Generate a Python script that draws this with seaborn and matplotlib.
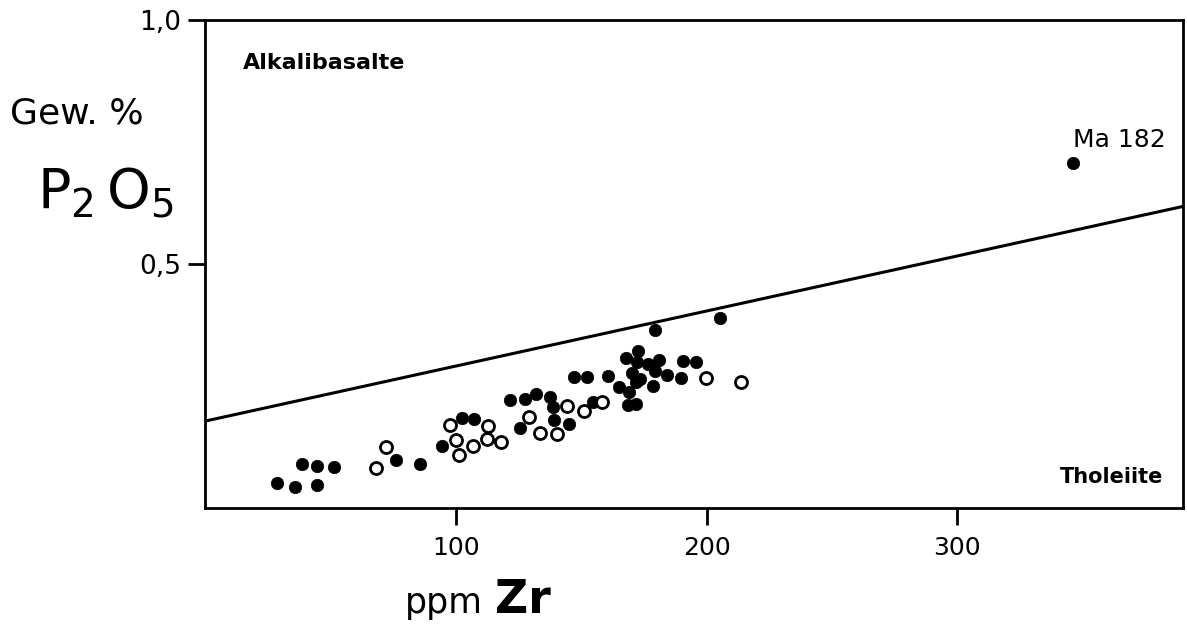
import matplotlib
matplotlib.use("Agg")
import matplotlib.pyplot as plt
import seaborn as sns
import pandas as pd

# ---- data ----
filled_zr = [28.8, 36.0, 44.8, 38.8, 44.8, 51.6, 76.0, 85.6, 94.4, 102.4, 107.2,
             121.6, 127.6, 132.0, 137.6, 138.8, 139.2, 125.6, 145.2, 147.2, 152.4,
             160.8, 154.8, 165.2, 169.2, 168.8, 172.0, 170.4, 173.6, 172.0, 178.8,
             179.6, 184.4, 190.0, 168.0, 172.4, 176.8, 181.2, 190.8, 195.6, 172.8,
             179.6, 205.2, 346.0]
filled_p2o5 = [0.051, 0.043, 0.047, 0.090, 0.086, 0.084, 0.098, 0.090, 0.127, 0.184, 0.182,
               0.222, 0.224, 0.233, 0.227, 0.206, 0.180, 0.163, 0.173, 0.269, 0.269,
               0.271, 0.218, 0.247, 0.237, 0.212, 0.214, 0.276, 0.265, 0.259, 0.251,
               0.280, 0.273, 0.267, 0.308, 0.300, 0.296, 0.304, 0.302, 0.300, 0.322,
               0.365, 0.390, 0.706]
open_zr = [68.0, 72.0, 97.6, 100.0, 101.2, 106.8, 112.8, 112.4, 118.0, 129.2,
           133.6, 140.4, 144.4, 151.2, 158.4, 199.6, 213.6]
open_p2o5 = [0.082, 0.124, 0.171, 0.139, 0.108, 0.127, 0.169, 0.141, 0.135, 0.186,
             0.153, 0.151, 0.210, 0.198, 0.218, 0.267, 0.259]
boundary_zr = [0, 390]
boundary_p2o5 = [0.178, 0.618]
x_ticks = [100, 200, 300]
x_ticklabels = ["100", "200", "300"]
y_ticks = [0.5, 1.0]
y_ticklabels = ["0,5", "1,0"]
label_ma = "Ma 182"

df_filled = pd.DataFrame({"Zr": filled_zr, "P2O5": filled_p2o5})
df_open = pd.DataFrame({"Zr": open_zr, "P2O5": open_p2o5})
df_line = pd.DataFrame({"Zr": boundary_zr, "P2O5": boundary_p2o5})

sns.set_theme(style="white")
plt.rcParams["font.family"] = ["DejaVu Sans"]

fig = plt.figure(figsize=(11.87, 6.35), dpi=100)
ax = fig.add_axes([205 / 1187, 1 - 508 / 635, 978 / 1187, 488 / 635])

sns.lineplot(data=df_line, x="Zr", y="P2O5", ax=ax, color="black", linewidth=2.2)
sns.scatterplot(data=df_filled, x="Zr", y="P2O5", ax=ax, color="black",
                s=80, edgecolor="black", linewidth=0.5, zorder=3)
sns.scatterplot(data=df_open, x="Zr", y="P2O5", ax=ax, facecolor="white",
                s=75, edgecolor="black", linewidth=2.0, zorder=4)

ax.set_xlim(0, 390)
ax.set_ylim(0, 1.0)
ax.set_xticks(x_ticks)
ax.set_xticklabels(x_ticklabels)
ax.set_yticks(y_ticks)
ax.set_yticklabels(y_ticklabels)
ax.set_xlabel("")
ax.set_ylabel("")

for sp in ax.spines.values():
    sp.set_visible(True)
    sp.set_color("black")
    sp.set_linewidth(2.0)

ax.tick_params(axis="both", which="major", direction="out", length=12, width=2.0,
               color="black", labelcolor="black", bottom=True, left=True,
               top=False, right=False)
ax.tick_params(axis="x", pad=8, labelsize=18)
ax.tick_params(axis="y", pad=5, labelsize=19)

# annotation for Ma 182
ax.annotate(label_ma, xy=(filled_zr[-1], filled_p2o5[-1]), xytext=(0, 8),
            textcoords="offset points", ha="left", va="bottom", fontsize=18,
            color="black")

# region labels
ax.text(0.039, 0.90, "Alkalibasalte", transform=ax.transAxes, ha="left",
        va="baseline", fontsize=16, fontweight="bold", color="black")
ax.text(0.98, 0.051, "Tholeiite", transform=ax.transAxes, ha="right",
        va="baseline", fontsize=15, fontweight="bold", color="black")

# axis titles
fig.text(10 / 1187, 1 - 123 / 635, "Gew. %", ha="left", va="baseline",
         fontsize=26, color="black")
fig.text(37 / 1187, 1 - 208 / 635, r"$\mathsf{P_2\,O_5}$", ha="left", va="baseline",
         fontsize=40, color="black")
fig.text(405 / 1187, 1 - 613 / 635, "ppm", ha="left", va="baseline",
         fontsize=25, color="black")
fig.text(495 / 1187, 1 - 613 / 635, "Zr", ha="left", va="baseline",
         fontsize=33, fontweight="bold", color="black")

fig.savefig("out.png", dpi=100, facecolor="white")
